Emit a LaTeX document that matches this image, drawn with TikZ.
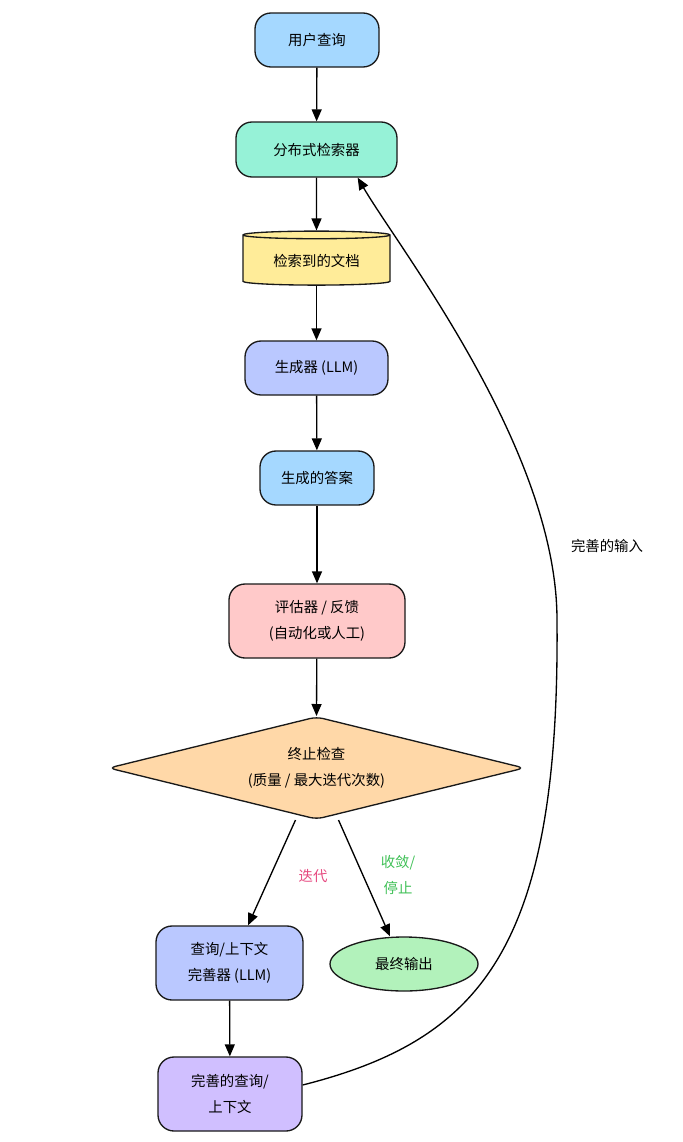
\documentclass[tikz,border=0pt]{standalone}
\usepackage{fontspec}
\setmainfont{Noto Sans CJK SC}
\usetikzlibrary{shapes.geometric,arrows.meta,calc}
\definecolor{cQuery}{HTML}{A5D8FF}
\definecolor{cRetr}{HTML}{96F2D7}
\definecolor{cDocs}{HTML}{FFEC99}
\definecolor{cGen}{HTML}{BAC8FF}
\definecolor{cEval}{HTML}{FFC9C9}
\definecolor{cCheck}{HTML}{FFD8A8}
\definecolor{cOut}{HTML}{B2F2BB}
\definecolor{cRef}{HTML}{D0BFFF}
\definecolor{cIter}{HTML}{E64980}
\definecolor{cStop}{HTML}{40C057}
\tikzset{
  txt/.style={font=\fontsize{10.8}{19.5}\selectfont, align=center},
  box/.style={txt, draw=black!90, line width=1pt, rounded corners=12pt, inner sep=2pt},
  flow/.style={-{Triangle[length=9pt,width=7.5pt]}, line width=1pt},
}
\begin{document}
\begin{tikzpicture}[x=0.75pt,y=-0.75pt]
\useasboundingbox (0,0) rectangle (682,1142);
\node[box,fill=cQuery,minimum width=93pt,minimum height=40.5pt] (query) at (317,40) {用户查询};
\node[box,fill=cRetr,minimum width=120.75pt,minimum height=41.25pt] (retr) at (316.5,149.5) {分布式检索器};
\node[txt,draw=black!90,line width=1pt,fill=cDocs,cylinder,shape border rotate=90,aspect=0.08,minimum width=110.25pt,minimum height=40.5pt] (docs) at (316.5,261) {检索到的文档};
\node[box,fill=cGen,minimum width=107.25pt,minimum height=40.5pt] (gen) at (316.5,368) {生成器 (LLM)};
\node[box,fill=cQuery,minimum width=85.5pt,minimum height=40.5pt] (ans) at (317,478) {生成的答案};
\node[box,fill=cEval,minimum width=132pt,minimum height=55.5pt] (eval) at (317,621) {评估器 / 反馈\\(自动化或人工)};
\node[box,fill=cCheck,diamond,rounded corners=5pt,aspect=4,inner sep=0pt,minimum width=312pt,minimum height=77pt] (check) at (316.5,768) {终止检查\\(质量 / 最大迭代次数)};
\node[box,fill=cGen,minimum width=110.25pt,minimum height=55.5pt] (refiner) at (229.5,963) {查询/上下文\\完善器 (LLM)};
\node[txt,draw=black!90,line width=1pt,fill=cOut,ellipse,minimum width=111pt,minimum height=40.5pt] (final) at (404,964) {最终输出};
\node[box,fill=cRef,minimum width=108pt,minimum height=55.5pt] (ref) at (230,1094) {完善的查询/\\上下文};

\draw[flow] (query) -- (retr);
\draw[flow] (retr) -- (docs.north);
\draw[flow] (docs.south) -- (gen);
\draw[flow] (gen) -- (ans);
\draw[flow] (ans) -- (eval);
\draw[flow] (eval) -- (check.north);
\draw[flow] ([xshift=-15.75pt]check.south) -- ([xshift=13.9pt]refiner.north);
\draw[flow] ([xshift=16.5pt]check.south) -- ([xshift=-10.5pt]final.north);
\draw[flow] (refiner) -- (ref);
\node[txt,text=cIter] (lblIter) at (313,876) {迭代};
\node[txt,text=cStop] (lblStop) at (398,875) {收敛/\\停止};

% feedback loop
\coordinate (loopmid) at (557,620);
\draw[flow] ([yshift=6.75pt]ref.east) .. controls (480,1040) and (560,950) .. (loopmid)
  .. controls (557,450) and (400,250) .. ([xshift=-30pt]retr.south east);
\node[txt] (lblLoop) at (607,546) {完善的输入};
\end{tikzpicture}
\end{document}
